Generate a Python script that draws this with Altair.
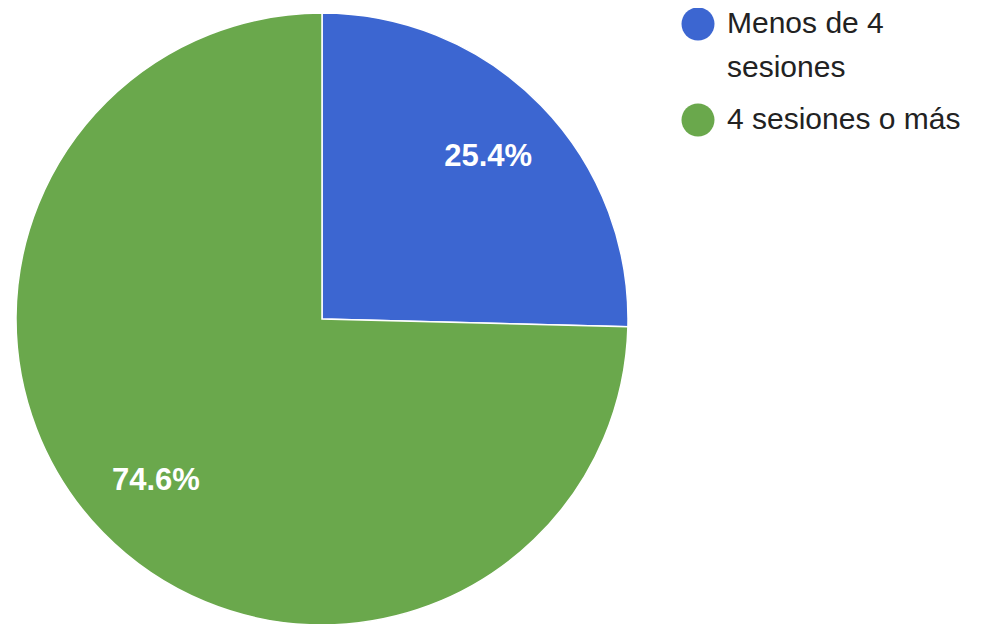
import altair as alt
import pandas as pd

categories = ["Menos de 4 sesiones", "4 sesiones o más"]
values = [25.4, 74.6]
labels = ["25.4%", "74.6%"]
legend_text = ["Menos de 4\nsesiones", "4 sesiones o más"]
colors = ["#3c66d1", "#6aa84c"]

df = pd.DataFrame({"cat": categories, "val": values, "lab": labels, "idx": [0, 1],
                   "legtxt": legend_text})

cx, cy = 314, 311

color_enc = alt.Color("cat:N", scale=alt.Scale(domain=categories, range=colors), legend=None)

base = alt.Chart(df).encode(
    theta=alt.Theta("val:Q", stack=True),
    order=alt.Order("idx:O"),
)

pie = base.mark_arc(outerRadius=306, stroke="white", strokeWidth=1.5).encode(
    color=color_enc,
    x=alt.value(cx),
    y=alt.value(cy),
)

text = base.mark_text(
    radius=232, font="Liberation Sans", fontSize=31, fontWeight="bold", color="white"
).encode(text="lab:N", x=alt.value(cx), y=alt.value(cy))

leg_y = alt.Y("cat:N", scale=alt.Scale(type="point", domain=categories, range=[16, 112], padding=0),
              axis=None)

leg_sym = alt.Chart(df).mark_circle(size=1089, opacity=1).encode(
    x=alt.value(690), y=leg_y, color=color_enc
)

leg_txt = alt.Chart(df).mark_text(
    align="left", baseline="middle", font="Liberation Sans", fontSize=30,
    color="#222222", lineBreak="\n", lineHeight=44
).encode(x=alt.value(719), y=leg_y, text="legtxt:N")

chart = (
    alt.layer(pie, text, leg_sym, leg_txt)
    .properties(width=970, height=616, padding=0, autosize=alt.AutoSizeParams(type="none"))
    .configure_view(stroke=None)
)

chart.save("out.html", embed_options={"renderer": "svg", "actions": False})
